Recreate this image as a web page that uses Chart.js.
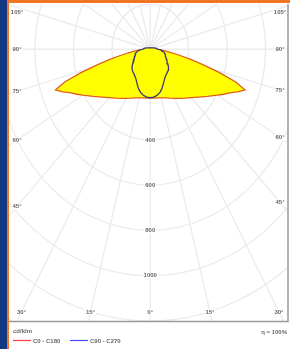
<!DOCTYPE html>
<html>
<head>
<meta charset="utf-8">
<script src="https://cdn.jsdelivr.net/npm/chart.js@4.4.0/dist/chart.umd.min.js"></script>
<style>
  html, body { margin: 0; padding: 0; background: #fff; }
  canvas { display: block; }
</style>
</head>
<body>
<canvas id="polarChart" width="290" height="349"></canvas>
<script>
// Gamma angles (degrees from nadir) and intensities in cd/klm
const gammaAngles = [0, 5, 10, 15, 20, 25, 30, 35, 40, 45, 50, 55, 60, 62.5, 65, 67.5, 70, 72, 74, 76, 78, 80, 82, 84, 86, 88, 90, 100, 110, 120, 135, 150, 165, 180];
const c0c180 = [216, 216, 218, 222, 228, 238, 250, 265, 282, 302, 328, 362, 405, 430, 455, 492, 525, 468, 375, 285, 215, 158, 118, 88, 66, 42, 15, 6, 5, 5, 5, 5, 5, 5];
const c90c270 = [214, 212, 206, 197, 182, 164, 150, 141, 136, 132, 124, 112, 101, 96, 92, 88, 85, 83, 81, 79, 76, 72, 67, 62, 56, 49, 42, 28, 19, 13, 9, 7, 6.5, 6.5];

// Grid
const ringValues = [200, 400, 600, 800, 1000, 1200, 1400];
const ringLabels = ['200', '400', '600', '800', '1000'];
const spokeAngles = [0, 15, 30, 45, 60, 75, 90, 105, 120, 135, 150, 165, 180, 195, 210, 225, 240, 255, 270, 285, 300, 315, 330, 345];
const angleLabels = [0, 15, 30, 45, 60, 75, 90, 105];

const seriesNames = ['C0 - C180', 'C90 - C270'];
const unitText = 'cd/klm';
const efficiencyText = '\u03B7 = 100%';

// turn one curve into a closed loop: right half then left half
function toPoints(values) {
    const pts = [];
    for (let i = 0; i < gammaAngles.length; i++) {
        const a = gammaAngles[i] * Math.PI / 180;
        pts.push({ x: values[i] * Math.sin(a), y: -values[i] * Math.cos(a) });
    }
    for (let i = gammaAngles.length - 1; i >= 0; i--) {
        const a = gammaAngles[i] * Math.PI / 180;
        pts.push({ x: -values[i] * Math.sin(a), y: -values[i] * Math.cos(a) });
    }
    return pts;
}

const FONT = 'bold 6px "Liberation Sans", Arial, sans-serif';

// grid rings + spokes, drawn under the curves
const gridPlugin = {
    id: 'polarGrid',
    beforeDatasetsDraw(chart) {
        const { ctx, chartArea: ca, scales: { x, y } } = chart;
        ctx.save();
        ctx.fillStyle = '#fff';
        ctx.fillRect(0, 0, chart.width, chart.height);
        ctx.beginPath();
        ctx.rect(ca.left, ca.top, ca.right - ca.left, ca.bottom - ca.top);
        ctx.clip();
        ctx.strokeStyle = '#ececec';
        ctx.lineWidth = 1.4;
        const cx = x.getPixelForValue(0), cy = y.getPixelForValue(0);
        ringValues.forEach(v => {
            ctx.beginPath();
            ctx.ellipse(cx, cy, x.getPixelForValue(v) - cx, cy - y.getPixelForValue(v), 0, 0, Math.PI * 2);
            ctx.stroke();
        });
        spokeAngles.forEach(d => {
            const a = d * Math.PI / 180;
            const far = 3000;
            ctx.beginPath();
            ctx.moveTo(cx, cy);
            ctx.lineTo(x.getPixelForValue(far * Math.sin(a)), y.getPixelForValue(-far * Math.cos(a)));
            ctx.stroke();
        });
        // ring value labels on the vertical axis
        ctx.font = FONT;
        ctx.textAlign = 'center';
        ctx.textBaseline = 'middle';
        ringLabels.forEach(t => {
            const py = y.getPixelForValue(-Number(t));
            const w = ctx.measureText(t).width;
            ctx.fillStyle = '#fff';
            ctx.fillRect(cx - w / 2 - 1, py - 3, w + 2, 6);
            ctx.fillStyle = '#666';
            ctx.fillText(t, cx, py);
        });
        ctx.restore();
    },
    afterDraw(chart) {
        const { ctx, chartArea: ca, scales: { x, y } } = chart;
        const cx = x.getPixelForValue(0), cy = y.getPixelForValue(0);
        ctx.save();
        // angle labels where the spokes meet an inset box
        const box = { l: ca.left + 8, r: ca.right - 8, t: ca.top + 8, b: ca.bottom - 9 };
        ctx.font = FONT;
        ctx.textAlign = 'center';
        ctx.textBaseline = 'middle';
        angleLabels.forEach(d => {
            const a = d * Math.PI / 180;
            const ux = x.getPixelForValue(1000 * Math.sin(a)) - cx;
            const uy = y.getPixelForValue(-1000 * Math.cos(a)) - cy;
            [1, -1].forEach(side => {
                if (d === 0 && side < 0) return;
                const dx = ux * side;
                let t = Infinity;
                if (dx > 0) t = Math.min(t, (box.r - cx) / dx);
                if (dx < 0) t = Math.min(t, (box.l - cx) / dx);
                if (uy > 0) t = Math.min(t, (box.b - cy) / uy);
                let px = cx + dx * t, py = cy + uy * t;
                if (py < box.t) py = box.t;
                const txt = d + '\u00B0';
                const w = ctx.measureText(txt).width;
                ctx.fillStyle = '#fff';
                ctx.fillRect(px - w / 2 - 1, py - 3, w + 2, 6);
                ctx.fillStyle = '#666';
                ctx.fillText(txt, px, py);
            });
        });

        // frame lines
        ctx.strokeStyle = '#9a9a9a';
        ctx.lineWidth = 1.5;
        ctx.beginPath();
        ctx.moveTo(ca.left, ca.bottom + 0.5);
        ctx.lineTo(ca.right, ca.bottom + 0.5);
        ctx.lineTo(ca.right, ca.top);
        ctx.stroke();

        // legend
        ctx.textAlign = 'left';
        ctx.fillStyle = '#666';
        ctx.fillText(unitText, 13, 331);
        ctx.textAlign = 'right';
        ctx.fillText(efficiencyText, 287, 332);
        ctx.textAlign = 'left';
        const legendColors = ['#ff3b4a', '#4a4aff'];
        const legendX = [13, 70];
        seriesNames.forEach((n, i) => {
            ctx.strokeStyle = legendColors[i];
            ctx.lineWidth = 1.2;
            ctx.beginPath();
            ctx.moveTo(legendX[i], 340.5);
            ctx.lineTo(legendX[i] + 18, 340.5);
            ctx.stroke();
            ctx.fillStyle = '#666';
            ctx.fillText(n, legendX[i] + 20, 341);
        });

        // page border decoration
        ctx.fillStyle = '#123a82';
        ctx.fillRect(0, 0, 7, chart.height);
        ctx.fillStyle = '#f07424';
        ctx.fillRect(7, 0, 2, chart.height);
        ctx.fillRect(7, 0, chart.width - 7, 3);
        ctx.restore();
    }
};

const ctx = document.getElementById('polarChart').getContext('2d');
const chart = new Chart(ctx, {
    type: 'scatter',
    data: {
        datasets: [{
            label: seriesNames[0],
            data: toPoints(c0c180),
            showLine: true,
            borderColor: '#e0601a',
            borderWidth: 1.3,
            backgroundColor: '#ffff00',
            fill: 'shape',
            pointRadius: 0,
            tension: 0,
            order: 2
        }, {
            label: seriesNames[1],
            data: toPoints(c90c270),
            showLine: true,
            borderColor: '#3a3a70',
            borderWidth: 1.3,
            backgroundColor: '#ffff00',
            fill: 'shape',
            pointRadius: 0,
            tension: 0,
            order: 1
        }]
    },
    options: {
        responsive: false,
        animation: false,
        layout: { padding: { left: 9, top: 4, right: 2, bottom: 28 } },
        plugins: { legend: { display: false }, tooltip: { enabled: false } },
        scales: {
            x: { type: 'linear', min: -735, max: 717, display: false },
            y: { type: 'linear', min: -1200, max: 200, display: false }
        }
    },
    plugins: [gridPlugin]
});
</script>
</body>
</html>
